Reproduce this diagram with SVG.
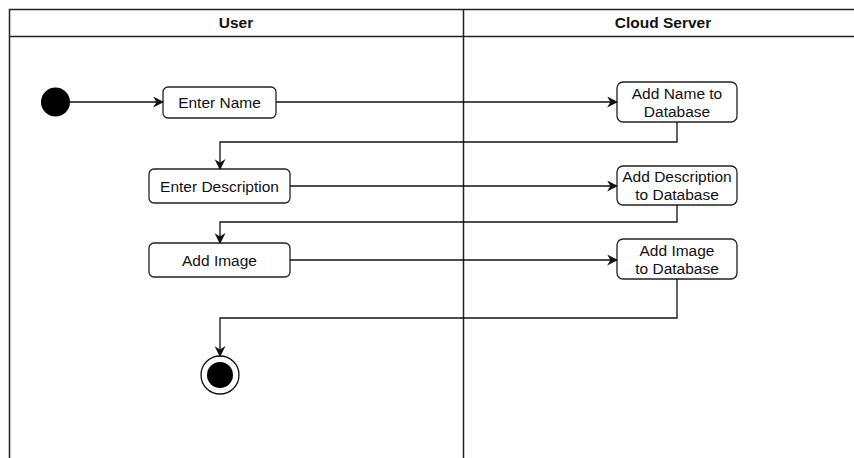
<svg xmlns="http://www.w3.org/2000/svg" width="854" height="458" viewBox="0 0 854 458">
<defs>
<style>
.lane{fill:none;stroke:#222;stroke-width:1.5}
.node rect{fill:#fff;stroke:#222;stroke-width:1.3}
.node text{font-family:"Liberation Sans",Arial,sans-serif;font-size:15.5px;fill:#111;text-anchor:middle}
.hdr{font-family:"Liberation Sans",Arial,sans-serif;font-size:15.5px;font-weight:bold;fill:#111;text-anchor:middle}
.conn{fill:none;stroke:#111;stroke-width:1.3}
</style>
<marker id="arr" viewBox="0 0 10 10" refX="9" refY="5" markerWidth="11" markerHeight="11" markerUnits="userSpaceOnUse" orient="auto">
<path d="M0,0 L10,5 L0,10 L3,5 Z" fill="#111"/>
</marker>
</defs>
<rect width="854" height="458" fill="#fff"/>
<g id="pool">
<path class="lane" d="M9.5,458 V9.5 H854 M9.5,36.5 H854 M463.5,9.5 V458"/>
<text class="hdr" x="236" y="28">User</text>
<text class="hdr" x="663" y="28">Cloud Server</text>
</g>
<g id="start"><circle cx="55.5" cy="102" r="14.5" fill="#000"/></g>
<g id="enterName" class="node"><rect x="163" y="87" width="113" height="31" rx="5"/><text x="219.5" y="108">Enter Name</text></g>
<g id="addName" class="node"><rect x="617" y="82" width="120" height="40" rx="6"/><text x="677" y="99">Add Name to</text><text x="677" y="117">Database</text></g>
<g id="enterDesc" class="node"><rect x="149" y="169" width="141" height="34" rx="5"/><text x="219.5" y="192">Enter Description</text></g>
<g id="addDesc" class="node"><rect x="617" y="166" width="120" height="39" rx="6"/><text x="677" y="182">Add Description</text><text x="677" y="200">to Database</text></g>
<g id="addImage" class="node"><rect x="149" y="243" width="141" height="34" rx="5"/><text x="219.5" y="266">Add Image</text></g>
<g id="addImageDb" class="node"><rect x="617" y="239" width="120" height="40" rx="6"/><text x="677" y="256">Add Image</text><text x="677" y="274">to Database</text></g>
<g id="end"><circle cx="220" cy="375" r="19" fill="#fff" stroke="#111" stroke-width="1.3"/><circle cx="220" cy="375" r="13" fill="#000"/></g>
<g id="connectors">
<path class="conn" marker-end="url(#arr)" d="M70,102 H163"/>
<path class="conn" marker-end="url(#arr)" d="M276,102 H617"/>
<path class="conn" marker-end="url(#arr)" d="M677,122 V142 H220 V169"/>
<path class="conn" marker-end="url(#arr)" d="M290,186 H617"/>
<path class="conn" marker-end="url(#arr)" d="M677,205 V222 H220 V243"/>
<path class="conn" marker-end="url(#arr)" d="M290,260 H617"/>
<path class="conn" marker-end="url(#arr)" d="M677,279 V318 H220 V356"/>
</g>
</svg>
